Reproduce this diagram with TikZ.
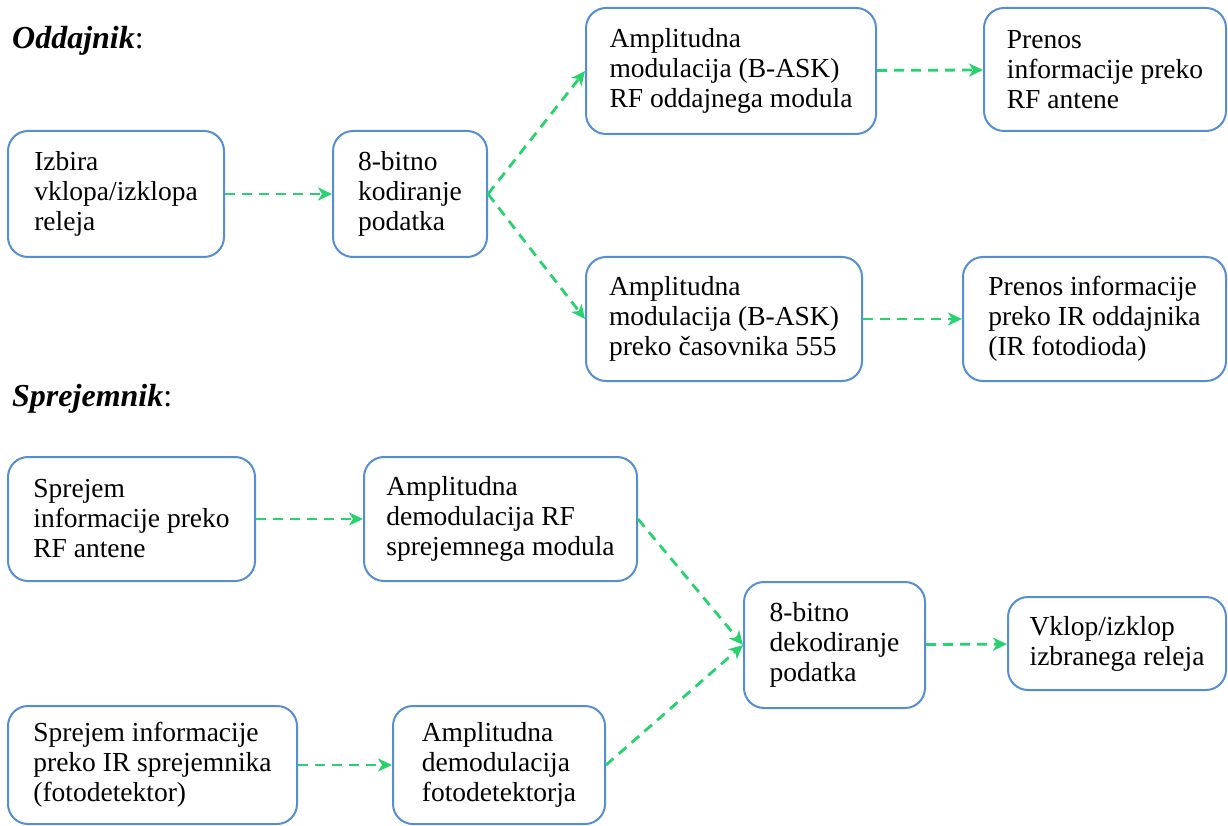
\documentclass[tikz,border=0pt]{standalone}
\usepackage{fontspec}
\setmainfont{Liberation Serif}
\usetikzlibrary{arrows.meta}
\definecolor{boxblue}{RGB}{86,142,213}
\definecolor{arrgreen}{RGB}{40,210,110}
\begin{document}
\begin{tikzpicture}[x=1pt,y=-1pt,
  stepbox/.style={draw=boxblue, line width=2pt, rounded corners=20pt, align=left,
    font=\fontsize{27.5}{30}\selectfont, inner sep=0pt},
  flow/.style={draw=arrgreen, line width=2.8pt, dash pattern=on 10pt off 7pt,
    -{Stealth[length=14pt,width=13pt,inset=4pt]}},
  heading/.style={anchor=base west, inner sep=0pt, font=\fontsize{32}{36}\selectfont}]
\useasboundingbox (0,0) rectangle (1228,826);
% headings
\node[heading] (h1) at (12,49) {\textbf{\textit{Oddajnik}}:};
\node[heading] (h2) at (12,406) {\textbf{\textit{Sprejemnik}}:};
% transmitter
\node[stepbox, minimum width=216pt, minimum height=126pt] (a) at (116,194) {Izbira\\vklopa/izklopa\\releja};
\node[stepbox, minimum width=154pt, minimum height=126pt] (b) at (410,194) {8-bitno\\kodiranje\\podatka};
\node[stepbox, minimum width=290pt, minimum height=126pt] (c) at (731,71) {Amplitudna\\modulacija (B-ASK)\\RF oddajnega modula};
\node[stepbox, minimum width=242pt, minimum height=123pt] (d) at (1105,69.5) {Prenos\\informacije preko\\RF antene};
\node[stepbox, minimum width=276pt, minimum height=124pt] (e) at (724,319) {Amplitudna\\modulacija (B-ASK)\\preko časovnika 555};
\node[stepbox, minimum width=263pt, minimum height=124pt] (f) at (1094.5,319) {Prenos informacije\\preko IR oddajnika\\(IR fotodioda)};
% receiver
\node[stepbox, minimum width=247pt, minimum height=124pt] (g) at (131.5,519) {Sprejem\\informacije preko\\RF antene};
\node[stepbox, minimum width=273pt, minimum height=124pt] (h) at (500.5,519) {Amplitudna\\demodulacija RF\\sprejemnega modula};
\node[stepbox, minimum width=181pt, minimum height=126pt] (i) at (834.5,645) {8-bitno\\dekodiranje\\podatka};
\node[stepbox, minimum width=218pt, minimum height=93pt] (j) at (1117,643.5) {Vklop/izklop\\izbranega releja};
\node[stepbox, minimum width=289pt, minimum height=118pt] (k) at (152.5,765) {Sprejem informacije\\preko IR sprejemnika\\(fotodetektor)};
\node[stepbox, minimum width=212pt, minimum height=118pt] (l) at (499,765) {Amplitudna\\demodulacija\\fotodetektorja};
% connectors
\draw[flow] (a) -- (b);
\draw[flow] (b.east) -- (c.west);
\draw[flow] (b.east) -- (e.west);
\draw[flow] (c) -- (d);
\draw[flow] (e) -- (f);
\draw[flow] (g) -- (h);
\draw[flow] (h.east) -- (i.west);
\draw[flow] (l.east) -- (i.west);
\draw[flow] (i) -- (j);
\draw[flow] (k) -- (l);
\end{tikzpicture}
\end{document}
